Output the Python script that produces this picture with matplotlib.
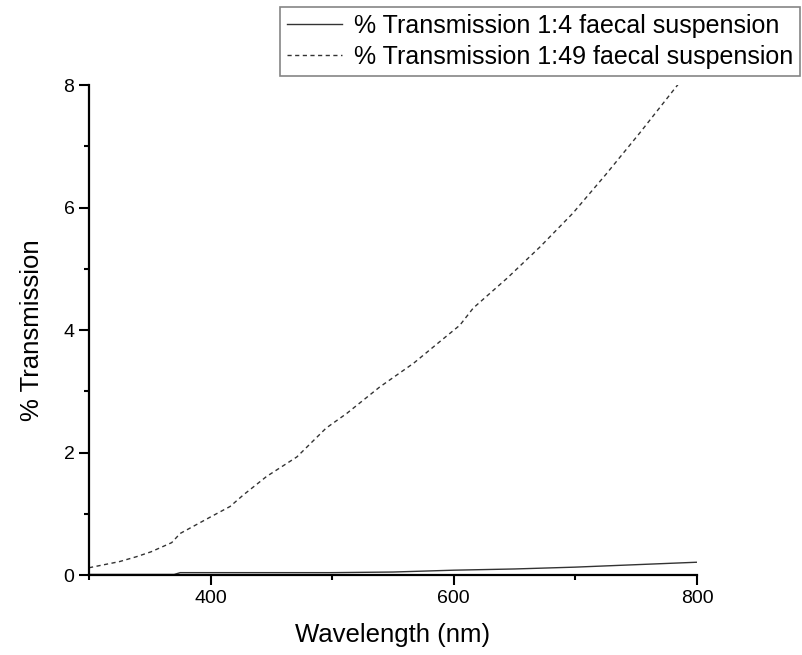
import numpy as np
import matplotlib.pyplot as plt
from matplotlib.ticker import MultipleLocator

plt.rcParams['font.family'] = ['Liberation Sans', 'DejaVu Sans']

# wavelength (nm) and % transmission
wl_49 = [300, 325, 339, 351, 368, 375, 400, 416, 427, 446, 471, 495, 512, 539, 567,
         589, 605, 616, 644, 671, 698, 725, 753, 780, 800]
tr_49 = [0.12, 0.22, 0.30, 0.38, 0.53, 0.68, 0.95, 1.12, 1.31, 1.61, 1.93, 2.40, 2.64,
         3.07, 3.46, 3.82, 4.08, 4.36, 4.85, 5.36, 5.91, 6.54, 7.22, 7.90, 8.40]

wl_4 = [300, 340, 370, 375, 450, 500, 550, 600, 650, 700, 750, 800]
tr_4 = [0.01, 0.01, 0.01, 0.04, 0.04, 0.04, 0.05, 0.08, 0.10, 0.13, 0.17, 0.21]

fig = plt.figure(figsize=(8.02, 6.55), dpi=100)
ax = fig.add_axes([0.111, 0.122, 0.758, 0.748])

ax.plot(wl_4, tr_4, color='#333333', lw=1.0, label='% Transmission 1:4 faecal suspension')
ax.plot(wl_49, tr_49, color='#333333', lw=1.0, ls=(0, (3, 2.5)),
        label='% Transmission 1:49 faecal suspension')

ax.set_xlim(300, 800)
ax.set_ylim(0, 8)
ax.xaxis.set_major_locator(MultipleLocator(200))
ax.xaxis.set_minor_locator(MultipleLocator(100))
ax.yaxis.set_major_locator(MultipleLocator(2))
ax.yaxis.set_minor_locator(MultipleLocator(1))

for side in ('top', 'right'):
    ax.spines[side].set_visible(False)
for side in ('left', 'bottom'):
    ax.spines[side].set_linewidth(1.6)

ax.tick_params(which='major', length=7, width=1.5, labelsize=14, direction='out')
ax.tick_params(which='minor', length=3.5, width=1.5, direction='out')

ax.set_xlabel('Wavelength (nm)', fontsize=18.5, labelpad=12)
ax.set_ylabel('% Transmission', fontsize=18.5, labelpad=14)

leg = fig.legend(loc='upper right', bbox_to_anchor=(0.998, 0.99), fontsize=18,
                 frameon=True, fancybox=False, handlelength=2.2, handletextpad=0.5,
                 borderpad=0.28, labelspacing=0.3, borderaxespad=0)
leg.get_frame().set_edgecolor('#666666')
leg.get_frame().set_linewidth(1.2)

fig.savefig('out.png', dpi=100)
